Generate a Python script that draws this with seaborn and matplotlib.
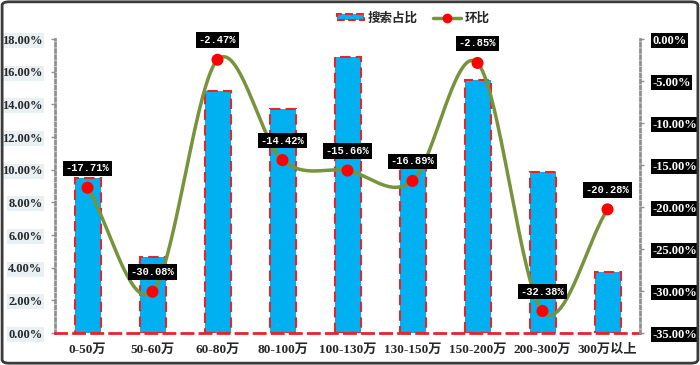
import numpy as np
import pandas as pd
import matplotlib
matplotlib.use("Agg")
import matplotlib.pyplot as plt
import seaborn as sns
from matplotlib.patches import Patch, FancyBboxPatch
from matplotlib.lines import Line2D
from matplotlib.ticker import FixedLocator

categories = ["0-50万", "50-60万", "60-80万", "80-100万", "100-130万", "130-150万", "150-200万", "200-300万", "300万以上"]
share = [9.5, 4.65, 14.82, 13.72, 16.9, 10.1, 15.49, 9.86, 3.74]
mom = [-17.71, -30.08, -2.47, -14.42, -15.66, -16.89, -2.85, -32.38, -20.28]
left_ticks = [0, 2, 4, 6, 8, 10, 12, 14, 16, 18]
right_ticks = [0, -5, -10, -15, -20, -25, -30, -35]

sns.set_theme(style="white")
plt.rcParams['font.family'] = ['Liberation Serif', 'Noto Sans CJK SC']
plt.rcParams['font.weight'] = 'bold'

BLUE = "#00B0F0"
RED = "#E8232A"
OLIVE = "#77933C"

df = pd.DataFrame({"cat": categories, "share": share, "mom": mom})

fig = plt.figure(figsize=(7, 3.65), dpi=100)
ax = fig.add_axes([55/700, 1-333/365, 585/700, 294/365])
sns.barplot(data=df, x="cat", y="share", ax=ax, color=BLUE, saturation=1, width=0.4, zorder=2)
for p in ax.patches:
    p.set_edgecolor(RED)
    p.set_linewidth(1.5)
    p.set_linestyle((0, (5, 2.5)))
ax.set_xlim(-0.5, 8.5)
ax.set_ylim(0, 18)
ax.set_yticks(left_ticks)
ax.set_yticklabels([f"{t:.2f}%" for t in left_ticks], fontsize=9, fontweight='bold')
for lbl in ax.get_yticklabels():
    lbl.set_bbox(dict(facecolor="#E9F0F4", edgecolor="none", pad=1.0))
ax.set_xlabel("")
ax.set_ylabel("")
ax.tick_params(axis='x', length=0, pad=8, labelsize=9.5)
ax.tick_params(axis='y', length=3, width=1, color="#909090", pad=6)
for lbl in ax.get_xticklabels():
    lbl.set_fontweight('bold')
ax.xaxis.set_minor_locator(FixedLocator(np.arange(-0.5, 9, 1.0)))
ax.tick_params(axis='x', which='minor', length=3, width=1.5, color=RED, direction='out')
ax.spines['top'].set_visible(False)
ax.spines['left'].set_color("#909090")
ax.spines['left'].set_linestyle((0, (1, 1.2)))
ax.spines['left'].set_linewidth(2)
ax.spines['right'].set_visible(False)
ax.spines['bottom'].set_color(RED)
ax.spines['bottom'].set_linestyle((0, (4, 2.5)))
ax.spines['bottom'].set_linewidth(2)
ax.grid(False)

ax2 = ax.twinx()
ax2.set_ylim(-35, 0)
ax2.set_yticks(right_ticks)
ax2.set_yticklabels([f"{t:.2f}%" for t in right_ticks], fontsize=9, fontweight='bold', color='white')
for lbl in ax2.get_yticklabels():
    lbl.set_bbox(dict(facecolor="black", edgecolor="none", pad=1.0))
ax2.tick_params(axis='y', length=3, width=1, color="#909090", pad=6)
for s in ['top', 'left', 'bottom']:
    ax2.spines[s].set_visible(False)
ax2.spines['right'].set_color("#909090")
ax2.spines['right'].set_linestyle((0, (1, 1.2)))
ax2.spines['right'].set_linewidth(2)
ax2.grid(False)

# smoothed line (Catmull-Rom through the data points)
xs = np.arange(len(mom), dtype=float)
ys = np.array(mom, dtype=float)
P = np.column_stack([xs, ys])
Pext = np.vstack([P[0] - (P[1] - P[0]), P, P[-1] + (P[-1] - P[-2])])
curve = []
tt = np.linspace(0, 1, 40)
for i in range(1, len(Pext) - 2):
    p0, p1, p2, p3 = Pext[i-1], Pext[i], Pext[i+1], Pext[i+2]
    c1 = p1 + (p2 - p0) / 6
    c2 = p2 - (p3 - p1) / 6
    seg = ((1-tt)**3)[:, None]*p1 + (3*(1-tt)**2*tt)[:, None]*c1 + (3*(1-tt)*tt**2)[:, None]*c2 + (tt**3)[:, None]*p2
    curve.append(seg)
curve = np.vstack(curve)
ax2.plot(curve[:, 0], curve[:, 1], color=OLIVE, lw=2.5, zorder=3, solid_capstyle='round')
sns.scatterplot(x=xs, y=ys, ax=ax2, color="#FF0000", s=75, edgecolor="none", zorder=4, legend=False)
for x, y in zip(xs, ys):
    ax2.annotate(f"{y:.2f}%", (x, y), xytext=(0, 14), textcoords="offset points",
                 ha='center', va='center', color='white', fontsize=7.5, fontweight='bold',
                 family='Liberation Mono',
                 bbox=dict(facecolor='black', edgecolor='none', pad=2.0), zorder=5)

handles = [Patch(facecolor=BLUE, edgecolor=RED, linewidth=1.5, linestyle='--', label="搜索占比"),
           Line2D([0], [0], color=OLIVE, lw=2.5, marker='o', markersize=6,
                  markerfacecolor='#FF0000', markeredgecolor='#FF0000', label="环比")]
fig.legend(handles=handles, loc='center', bbox_to_anchor=(0.59, 1-18/365), ncol=2, frameon=False,
           prop={'family': ['Noto Sans CJK SC'], 'weight': 'bold', 'size': 9},
           handlelength=2.2, handleheight=0.45, columnspacing=1.2, handletextpad=0.3)

border = FancyBboxPatch((0.003, 0.005), 0.994, 0.99, boxstyle="round,pad=0,rounding_size=0.01",
                        transform=fig.transFigure, facecolor='none', edgecolor='#3a3a3a', linewidth=2)
fig.patches.append(border)

fig.savefig("out.png", dpi=100)
